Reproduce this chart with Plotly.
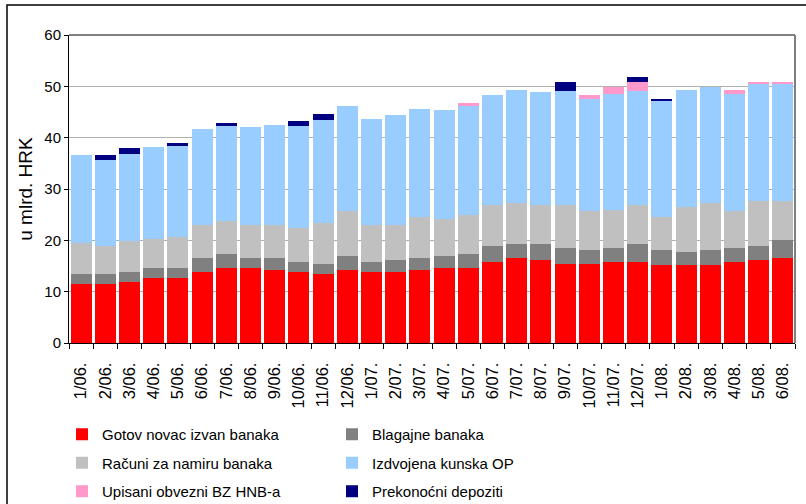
import plotly.graph_objects as go

categories = ["1/06.", "2/06.", "3/06.", "4/06.", "5/06.", "6/06.", "7/06.", "8/06.", "9/06.", "10/06.",
              "11/06.", "12/06.", "1/07.", "2/07.", "3/07.", "4/07.", "5/07.", "6/07.", "7/07.", "8/07.",
              "9/07.", "10/07.", "11/07.", "12/07.", "1/08.", "2/08.", "3/08.", "4/08.", "5/08.", "6/08."]

gotov_novac = [11.55, 11.55, 11.95, 12.7, 12.7, 13.9, 14.7, 14.7, 14.3, 13.9,
               13.5, 14.3, 13.9, 13.9, 14.3, 14.7, 14.7, 15.85, 16.6, 16.2,
               15.45, 15.45, 15.85, 15.85, 15.1, 15.1, 15.1, 15.85, 16.2, 16.6]
blagajne = [1.95, 1.95, 1.95, 2.0, 2.0, 2.7, 2.7, 1.9, 2.3, 1.95,
            1.95, 2.7, 1.95, 2.3, 2.3, 2.3, 2.7, 3.1, 2.75, 3.15,
            3.15, 2.75, 2.75, 3.5, 3.1, 2.7, 3.1, 2.75, 2.75, 3.5]
racuni = [5.9, 5.45, 5.9, 5.5, 5.9, 6.3, 6.3, 6.3, 6.3, 6.65,
          7.85, 8.65, 7.05, 6.7, 7.9, 7.1, 7.5, 7.85, 7.85, 7.45,
          8.2, 7.45, 7.4, 7.45, 6.3, 8.6, 9.0, 7.05, 8.65, 7.5]
izdvojena = [17.3, 16.75, 17.1, 18.0, 17.8, 18.85, 18.6, 19.2, 19.6, 19.8,
             20.2, 20.55, 20.8, 21.6, 21.1, 21.35, 21.3, 21.6, 22.0, 22.0,
             22.2, 21.85, 22.6, 22.2, 22.6, 22.8, 22.7, 22.95, 23.0, 23.0]
upisani = [0, 0, 0, 0, 0, 0, 0, 0, 0, 0,
           0, 0, 0, 0, 0, 0, 0.6, 0, 0, 0,
           0, 0.9, 1.3, 1.9, 0, 0, 0, 0.6, 0.3, 0.3]
prekonocni = [0, 1.0, 1.0, 0, 0.6, 0, 0.6, 0, 0, 1.0,
              1.2, 0, 0, 0, 0, 0, 0, 0, 0, 0,
              1.9, 0, 0, 1.0, 0.5, 0, 0, 0, 0, 0]

series = [
    ("Gotov novac izvan banaka", gotov_novac, "#FF0000", "legend"),
    ("Blagajne banaka", blagajne, "#808080", "legend2"),
    ("Računi za namiru banaka", racuni, "#C0C0C0", "legend"),
    ("Izdvojena kunska OP", izdvojena, "#99CCFF", "legend2"),
    ("Upisani obvezni BZ HNB-a", upisani, "#FF99CC", "legend"),
    ("Prekonoćni depoziti", prekonocni, "#000080", "legend2"),
]

FONT = "Liberation Sans, Arial, sans-serif"
W, H = 806, 504
L, R, T, B = 69, 11, 35, 161
PW, PH = W - L - R, H - T - B

fig = go.Figure()
for i, (name, vals, color, lg) in enumerate(series):
    fig.add_trace(go.Bar(
        x=categories, y=vals, name=name, marker=dict(color=color, line=dict(width=0)),
        legend=lg, legendgroup="g%d" % i,
    ))

legend_common = dict(
    orientation="v", bgcolor="rgba(0,0,0,0)", borderwidth=0,
    font=dict(family=FONT, size=15, color="#000000"),
    tracegroupgap=6, itemwidth=30, traceorder="grouped",
    xanchor="left", yanchor="top",
)

fig.update_layout(
    width=W, height=H,
    margin=dict(l=L, r=R, t=T, b=B, autoexpand=False),
    barmode="stack", bargap=0.13,
    plot_bgcolor="#FFFFFF", paper_bgcolor="#FFFFFF",
    font=dict(family=FONT, size=15, color="#000000"),
    showlegend=True,
    legend=dict(x=(62 - L) / PW, y=-(418 - (H - B)) / PH, **legend_common),
    legend2=dict(x=(332 - L) / PW, y=-(418 - (H - B)) / PH, **legend_common),
    xaxis=dict(
        type="category", tickangle=-90, tickson="boundaries",
        ticks="outside", ticklen=5, tickcolor="#000000",
        showline=True, linecolor="#000000", linewidth=1,
        showgrid=False, ticklabelstandoff=12,
        tickfont=dict(family=FONT, size=16.5, color="#000000"),
    ),
    yaxis=dict(
        range=[0, 60], dtick=10, ticks="outside", ticklen=4, tickcolor="#000000",
        showline=True, linecolor="#000000", linewidth=1,
        showgrid=True, gridcolor="#B0B0B0", gridwidth=1,
        zeroline=False,
        tickfont=dict(family=FONT, size=15, color="#000000"),
        title=dict(text="u mlrd. HRK", standoff=6,
                   font=dict(family=FONT, size=19, color="#000000")),
    ),
    shapes=[
        dict(type="line", xref="paper", yref="paper", x0=0, x1=1, y0=1, y1=1,
             line=dict(color="#808080", width=2)),
        dict(type="line", xref="paper", yref="paper", x0=1, x1=1, y0=0, y1=1,
             line=dict(color="#808080", width=2)),
        # outer frame: left at x=7, top at y=5, extending past right/bottom edges
        dict(type="rect", xref="paper", yref="paper",
             x0=(7 - L) / PW, x1=(W + 6 - L) / PW,
             y0=-(H + 6 - (H - B)) / PH, y1=((H - B) - 5) / PH,
             line=dict(color="#000000", width=1.5), layer="below"),
    ],
)

fig.write_html("out.html", config={"displayModeBar": False},
               post_script="document.body.style.margin='0';")
